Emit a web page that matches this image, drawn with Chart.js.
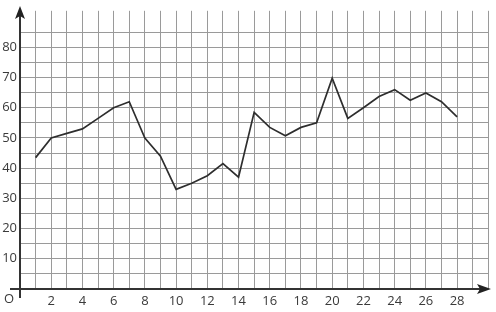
<!DOCTYPE html>
<html>
<head>
<meta charset="utf-8">
<script src="https://cdn.jsdelivr.net/npm/chart.js@4"></script>
<style>
html,body{margin:0;padding:0;background:#fff;}
canvas{display:block;}
</style>
</head>
<body>
<canvas id="c" width="496" height="312"></canvas>
<script>
const days = [1,2,3,4,5,6,7,8,9,10,11,12,13,14,15,16,17,18,19,20,21,22,23,24,25,26,27,28];
const values = [43.5,50,51.5,53,56.5,60,62,50,44,33,35,37.5,41.5,37,58.5,53.5,50.7,53.5,55,69.8,56.5,60,63.7,66,62.5,64.9,62,57];
const xTickLabels = [2,4,6,8,10,12,14,16,18,20,22,24,26,28];
const yTickLabels = [10,20,30,40,50,60,70,80];

const FONT = {family:'"Open Sans", "Noto Sans", sans-serif', size:13};
const TXT = '#3a3a3a';

const axesPlugin = {
  id:'axes',
  afterDraw(chart){
    const ctx = chart.ctx;
    const xs = chart.scales.x, ys = chart.scales.y;
    const x0 = xs.getPixelForValue(0), y0 = ys.getPixelForValue(0);
    ctx.save();
    ctx.strokeStyle = '#333'; ctx.fillStyle = '#222'; ctx.lineWidth = 2;
    ctx.beginPath();
    ctx.moveTo(x0, y0 + 9); ctx.lineTo(x0, 12);
    ctx.moveTo(x0 - 10, y0); ctx.lineTo(482, y0);
    ctx.stroke();
    // y arrow
    ctx.beginPath();
    ctx.moveTo(x0, 6); ctx.lineTo(x0 - 5, 19); ctx.lineTo(x0, 16); ctx.lineTo(x0 + 5, 19); ctx.closePath(); ctx.fill();
    // x arrow
    ctx.beginPath();
    ctx.moveTo(491, y0); ctx.lineTo(477, y0 - 5); ctx.lineTo(480, y0); ctx.lineTo(477, y0 + 5); ctx.closePath(); ctx.fill();
    // origin
    ctx.font = '13px "Open Sans", sans-serif';
    ctx.fillStyle = TXT; ctx.textAlign = 'center'; ctx.textBaseline = 'middle';
    ctx.fillText('O', 9, y0 + 10);
    ctx.restore();
  }
};

new Chart(document.getElementById('c'), {
  type:'line',
  data:{
    datasets:[{
      data: days.map((d,i)=>({x:d, y:values[i]})),
      borderColor:'#2e2e2e', borderWidth:1.7, pointRadius:0, tension:0, fill:false
    }]
  },
  options:{
    responsive:false, devicePixelRatio:1, animation:false,
    layout:{padding:{left:0, right:7.7, top:0, bottom:0}},
    plugins:{legend:{display:false}, tooltip:{enabled:false}},
    scales:{
      x:{
        type:'linear', min:0, max:30,
        afterFit(s){ s.height = 23; },
        border:{display:false},
        grid:{color:'#9a9a9a', lineWidth:1, drawTicks:false},
        ticks:{stepSize:1, autoSkip:false, maxRotation:0, padding:4, font:FONT, color:TXT,
          callback:v=> xTickLabels.includes(v) ? String(v) : ''}
      },
      y:{
        type:'linear', min:0, max:92.1,
        afterFit(s){ s.width = 20; },
        afterBuildTicks(s){ s.ticks = s.ticks.filter(t=>t.value<=85); },
        border:{display:false},
        grid:{color:'#9a9a9a', lineWidth:1, drawTicks:false},
        ticks:{stepSize:5, autoSkip:false, padding:3, font:FONT, color:TXT,
          callback:v=> yTickLabels.includes(v) ? String(v) : ''}
      }
    }
  },
  plugins:[axesPlugin]
});
</script>
</body>
</html>
